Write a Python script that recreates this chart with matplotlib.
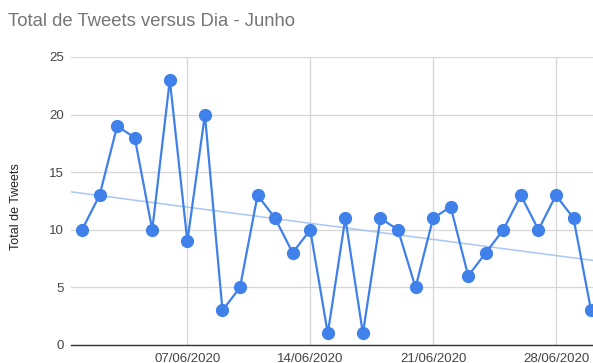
import numpy as np
import pandas as pd
import matplotlib
matplotlib.use("Agg")
import matplotlib.pyplot as plt
import matplotlib.dates as mdates

plt.rcParams['font.family'] = ['Liberation Sans', 'DejaVu Sans']

# Tweets per day, June 2020
dias = pd.date_range('2020-06-01', '2020-06-30', freq='D')
tweets = [10, 13, 19, 18, 10, 23, 9, 20, 3, 5,
          13, 11, 8, 10, 1, 11, 1, 11, 10, 5,
          11, 12, 6, 8, 10, 13, 10, 13, 11, 3]
semanas = pd.to_datetime(['2020-06-07', '2020-06-14', '2020-06-21', '2020-06-28'])
y_ticks = [0, 5, 10, 15, 20, 25]

fig = plt.figure(figsize=(5.93, 3.63), dpi=100)
ax = fig.add_axes([0.1197, 0.0496, 0.8803, 0.7934])

xnum = mdates.date2num(dias)
x0 = xnum[0] - 0.63
x1 = xnum[-1] + 0.11

# linear trendline over the whole plot width
coef = np.polyfit(xnum, tweets, 1)
xt = np.array([x0, x1])
ax.plot(xt, np.polyval(coef, xt), color='#a9c6f5', lw=1.1, zorder=2)

ax.plot(dias, tweets, color='#3f80ea', lw=1.6, marker='o', markersize=8.5,
        zorder=3, clip_on=False)

ax.set_xlim(x0, x1)
ax.set_ylim(0, 25)
ax.set_yticks(y_ticks)
ax.set_xticks(semanas)
ax.xaxis.set_major_formatter(mdates.DateFormatter('%d/%m/%Y'))

ax.grid(True, color='#d6d6d6', lw=0.9)
ax.set_axisbelow(True)
for s in ['top', 'right', 'left']:
    ax.spines[s].set_visible(False)
ax.spines['bottom'].set_color('#333333')
ax.spines['bottom'].set_linewidth(1.0)

ax.tick_params(axis='y', length=0, pad=5, labelsize=9.5, labelcolor='#444444')
ax.tick_params(axis='x', length=0, pad=5.5, labelsize=9.5, labelcolor='#444444')

fig.text(0.027, 0.43, 'Total de Tweets', rotation=90, ha='center', va='center',
         fontsize=9, color='#222222')
fig.text(0.013, 0.942, 'Total de Tweets versus Dia - Junho', ha='left', va='center',
         fontsize=13.3, color='#757575')

fig.savefig('out.png', dpi=100)
